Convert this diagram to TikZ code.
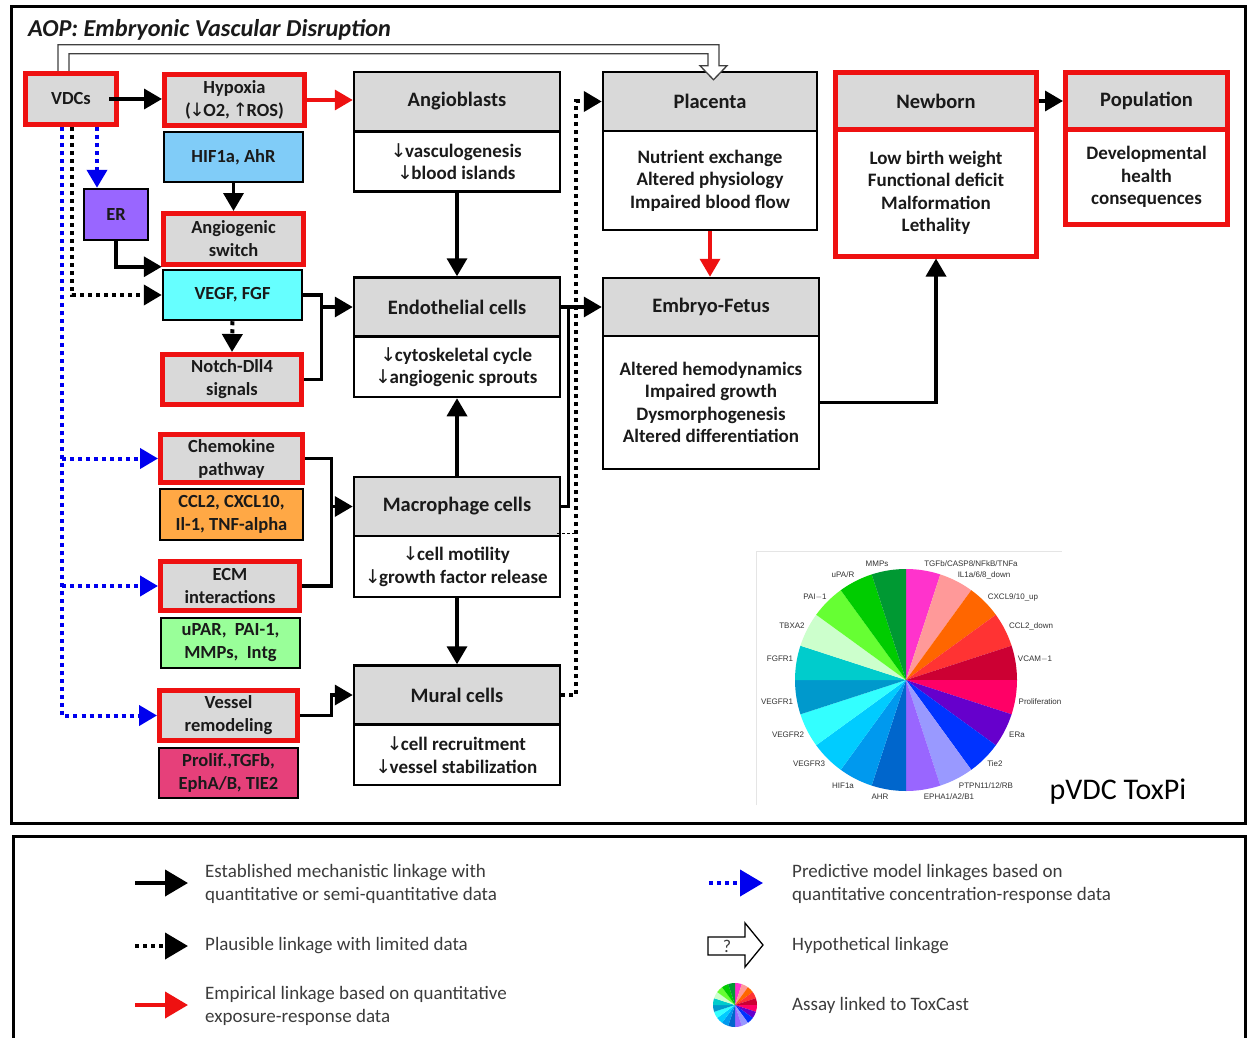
\documentclass[tikz,border=0pt]{standalone}
\usepackage{fontspec}
\setmainfont{Carlito}
\newfontfamily\pielab{Liberation Sans}
\newfontfamily\arrf{DejaVu Sans}
\newcommand{\dn}{{\arrf\mdseries\kern-1.5pt↓\kern-1.5pt}}
\newcommand{\upa}{{\arrf\mdseries\kern-1.5pt↑\kern-1.5pt}}
\usetikzlibrary{arrows.meta,calc}
\definecolor{hdr}{HTML}{D9D9D9}
\definecolor{redc}{HTML}{EE1111}
\definecolor{bluec}{HTML}{0000EE}
\definecolor{txt}{HTML}{1A1A1A}
\definecolor{legt}{HTML}{3C3C3C}
\definecolor{hifc}{HTML}{80CCF8}
\definecolor{erc}{HTML}{9966FF}
\definecolor{vegfc}{HTML}{66FFFF}
\definecolor{cclc}{HTML}{FFA845}
\definecolor{uparc}{HTML}{99FF99}
\definecolor{prolc}{HTML}{E6407A}
\definecolor{p1}{HTML}{FF33CC}
\definecolor{p2}{HTML}{FF9999}
\definecolor{p3}{HTML}{FF6600}
\definecolor{p4}{HTML}{FF3333}
\definecolor{p5}{HTML}{CC0033}
\definecolor{p6}{HTML}{FF0066}
\definecolor{p7}{HTML}{6600CC}
\definecolor{p8}{HTML}{0033FF}
\definecolor{p9}{HTML}{9999FF}
\definecolor{p10}{HTML}{9966FF}
\definecolor{p11}{HTML}{0066CC}
\definecolor{p12}{HTML}{0099EE}
\definecolor{p13}{HTML}{00CCFF}
\definecolor{p14}{HTML}{33FFFF}
\definecolor{p15}{HTML}{0099CC}
\definecolor{p16}{HTML}{00CCCC}
\definecolor{p17}{HTML}{CCFFCC}
\definecolor{p18}{HTML}{66FF33}
\definecolor{p19}{HTML}{00CC00}
\definecolor{p20}{HTML}{009933}
\newcommand{\toxpie}[1]{%
  \foreach \c [count=\i from 0] in {p1,p2,p3,p4,p5,p6,p7,p8,p9,p10,p11,p12,p13,p14,p15,p16,p17,p18,p19,p20}{%
    \fill[\c] (0,0) -- ({90-18*\i}:#1) arc[start angle={90-18*\i}, delta angle=-18, radius=#1] -- cycle;
  }}
\begin{document}
\begin{tikzpicture}[x=1pt,y=-1pt,
  every node/.style={inner sep=0pt, text=txt},
  box/.style={draw=black, line width=2.5pt, align=center, font=\bfseries\fontsize{18.5}{23}\selectfont},
  hbox/.style={box, fill=hdr, font=\bfseries\fontsize{20.5}{23}\selectfont},
  wbox/.style={box, fill=white, font=\bfseries\fontsize{19}{22.5}\selectfont},
  rbox/.style={box, draw=redc, line width=5pt, fill=hdr},
  rhbox/.style={hbox, draw=redc, line width=5pt},
  rwbox/.style={wbox, draw=redc, line width=5pt},
  lnk/.style={line width=3.5pt},
  arr/.style={lnk, -{Triangle[length=18pt,width=20pt]}},
  rarr/.style={arr, color=redc},
  dotk/.style={line width=4pt, dash pattern=on 4pt off 4pt},
  dotarr/.style={dotk, -{Triangle[length=18pt,width=20pt]}},
  bluearr/.style={dotarr, color=bluec},
  legtext/.style={anchor=west, align=left, text=legt, font=\fontsize{19}{23}\selectfont},
  plab/.style={text=black!80, font=\pielab\fontsize{8}{9}\selectfont},
  larr/.style={line width=4pt, -{Triangle[length=23pt,width=26pt]}},
]
\useasboundingbox (0,0) rectangle (1247,1038);
\fill[white] (0,0) rectangle (1247,1038);
% frames
\draw[line width=3pt] (11.5,6.5) rectangle (1245,823.5);
\draw[line width=3pt] (13.5,836.5) rectangle (1245.5,1050);
\node[anchor=west, font=\bfseries\itshape\fontsize{24.3}{26}\selectfont] (title) at (28,30) {AOP: Embryonic Vascular Disruption};

% left column
\node[rbox, minimum width=91pt, minimum height=51pt] (vdc) at (71,99) {VDCs};
\node[rbox, minimum width=140pt, minimum height=51pt] (hyp) at (234.5,100) {Hypoxia\\(\dn O2, \upa ROS)};
\node[box, fill=hifc, minimum width=139pt, minimum height=50pt] (hif) at (233.5,157) {HIF1a, AhR};
\node[box, fill=erc, minimum width=64pt, minimum height=51pt] (er) at (116,214.5) {ER};
\node[rbox, minimum width=140pt, minimum height=51pt] (ang) at (233.5,239) {Angiogenic\\switch};
\node[box, fill=vegfc, minimum width=139pt, minimum height=50pt] (vegf) at (232.5,295) {VEGF, FGF};
\node[rbox, minimum width=139pt, minimum height=50pt] (notch) at (232,379.5) {Notch-Dll4\\signals};
\node[rbox, minimum width=142pt, minimum height=48pt] (chem) at (231.5,458.5) {Chemokine\\pathway};
\node[box, fill=cclc, minimum width=143pt, minimum height=51pt] (ccl) at (231.5,514.5) {CCL2, CXCL10,\\Il-1, TNF-alpha};
\node[rbox, minimum width=139pt, minimum height=49pt] (ecm) at (230,586) {ECM\\interactions};
\node[box, fill=uparc, minimum width=139pt, minimum height=50pt] (upar) at (230.5,643) {uPAR,\ \ PAI-1,\\MMPs,\ \ Intg};
\node[rbox, minimum width=138pt, minimum height=50pt] (ves) at (228.5,715.5) {Vessel\\remodeling};
\node[box, fill=prolc, minimum width=139pt, minimum height=50pt] (prol) at (228.5,773) {Prolif.,TGFb,\\EphA/B, TIE2};

% middle column
\node[hbox, minimum width=206pt, minimum height=59pt] (angH) at (457,101.5) {Angioblasts};
\node[wbox, minimum width=206pt, minimum height=60pt] (angB) at (457,161.5) {\dn vasculogenesis\\\dn blood islands};
\node[hbox, minimum width=206pt, minimum height=59pt] (endoH) at (457,307) {Endothelial cells};
\node[wbox, minimum width=206pt, minimum height=60pt] (endoB) at (457,367) {\dn cytoskeletal cycle\\\dn angiogenic sprouts};
\node[hbox, minimum width=206pt, minimum height=59pt] (macH) at (457,506.5) {Macrophage cells};
\node[wbox, minimum width=206pt, minimum height=61pt] (macB) at (457,566.5) {\dn cell motility\\\dn growth factor release};
\node[hbox, minimum width=206pt, minimum height=59pt] (murH) at (457,695) {Mural cells};
\node[wbox, minimum width=206pt, minimum height=60pt] (murB) at (457,755) {\dn cell recruitment\\\dn vessel stabilization};

% right columns
\node[hbox, minimum width=214pt, minimum height=59pt] (placH) at (710,101.5) {Placenta};
\node[wbox, minimum width=214pt, minimum height=99pt] (placB) at (710,180.5) {Nutrient exchange\\Altered physiology\\Impaired blood flow};
\node[hbox, minimum width=216pt, minimum height=58pt] (embH) at (711,307) {Embryo-Fetus};
\node[wbox, minimum width=216pt, minimum height=133pt] (embB) at (711,402.5) {Altered hemodynamics\\Impaired growth\\Dysmorphogenesis\\Altered differentiation};
\node[rhbox, minimum width=201pt, minimum height=57pt] (newH) at (936,101) {Newborn};
\node[rwbox, minimum width=201pt, minimum height=126pt] (newB) at (936,193) {Low birth weight\\Functional deficit\\Malformation\\Lethality};
\node[rhbox, minimum width=162pt, minimum height=57pt] (popH) at (1146.5,101) {Population};
\node[rwbox, minimum width=162pt, minimum height=94pt] (popB) at (1146.5,177) {Developmental\\health\\consequences};

% connectors
\draw[arr] ([xshift=-10pt]vdc.east) -- (hyp.west |- vdc.east);
\draw[rarr] (hyp.east) -- (angH.west |- hyp.east);
\draw[arr] (hif.south) -- (ang.north);
\draw[bluearr] ([xshift=26pt]vdc.south) -- ([xshift=-19pt]er.north);
\draw[dotarr] ([xshift=1pt]vdc.south) |- (vegf.west);
\draw[arr] (er.south) |- ([yshift=2pt]vegf.north west);
\draw[dotarr] (vegf.south) -- (notch.north);
\draw[lnk] (vegf.east) -- ++(18,0) coordinate (j1) |- (notch.east);
\draw[arr] (j1 |- endoH.west) -- (endoH.west);
\draw[lnk] (chem.east) -- ++(26.5,0) coordinate (j2) |- (ecm.east);
\draw[arr] (j2 |- macH.west) -- (macH.west);
\draw[arr] (ves.east) -- ++(31.5,0) |- (murH.west);
\draw[bluearr] ([xshift=-9pt]vdc.south) |- (ves.west);
\draw[bluearr] ([xshift=-9pt]vdc.south |- chem.west) -- (chem.west);
\draw[bluearr] ([xshift=-9pt]vdc.south |- ecm.west) -- (ecm.west);
\draw[arr] (angB.south) -- (endoH.north);
\draw[arr] (macH.north) -- (endoB.south);
\draw[arr] (macB.south) -- (murH.north);
\draw[dotarr] (murH.east) -- ++(15,0) |- (placH.west);
\draw[line width=1pt, dash pattern=on 3pt off 2pt] ([xshift=-4pt,yshift=4pt]macH.south east) -- ++(18,0);
\draw[arr] (endoH.east) -- (embH.west);
\draw[lnk] (macH.east) -| ([xshift=7pt]endoH.east);
\draw[rarr] (placB.south) -- (embH.north -| placB.south);
\draw[arr] (embB.east) -| (newB.south);
\draw[arr] (newH.east) -- (popH.west);
% hypothetical (hollow) linkage
\draw[line width=1.3pt, draw=black!75, fill=white, line join=miter]
  ([xshift=-13pt]vdc.north) |- ([xshift=9pt,yshift=26pt]placH.north)
  -- ([xshift=9pt,yshift=5pt]placH.north) -- ([xshift=17pt,yshift=5pt]placH.north)
  -- ([xshift=3.5pt,yshift=-9pt]placH.north) -- ([xshift=-10pt,yshift=5pt]placH.north)
  -- ([xshift=-2pt,yshift=5pt]placH.north) -- ([xshift=-2pt,yshift=17pt]placH.north)
  -| ([xshift=-2pt]vdc.north);

% ToxPi
\draw[black!10, line width=0.8pt] (756,805) |- (1062,551);
\begin{scope}[shift={(906,680)}, y=1pt]
  \toxpie{111}
\end{scope}
\node[plab] (l1) at (877,564) {MMPs};
\node[plab] (l2) at (843,575) {uPA/R};
\node[plab] (l3) at (815,597) {PAI$-$1};
\node[plab] (l4) at (792,626) {TBXA2};
\node[plab] (l5) at (780,659) {FGFR1};
\node[plab] (l6) at (777,702) {VEGFR1};
\node[plab] (l7) at (788,735) {VEGFR2};
\node[plab] (l8) at (809,764) {VEGFR3};
\node[plab] (l9) at (843,786) {HIF1a};
\node[plab] (l10) at (880,797) {AHR};
\node[plab] (l11) at (949,797) {EPHA1/A2/B1};
\node[plab] (l12) at (986,786) {PTPN11/12/RB};
\node[plab] (l13) at (995,764) {Tie2};
\node[plab] (l14) at (1017,735) {ERa};
\node[plab] (l15) at (1040,702) {Proliferation};
\node[plab] (l16) at (1035,659) {VCAM$-$1};
\node[plab] (l17) at (1031,626) {CCL2\_down};
\node[plab] (l18) at (1013,597) {CXCL9/10\_up};
\node[plab] (l19) at (984,575) {IL1a/6/8\_down};
\node[plab] (l20) at (971,564) {TGFb/CASP8/NFkB/TNFa};
\node[font=\fontsize{30}{32}\selectfont, text=black] (toxpi) at (1118,792) {pVDC ToxPi};

% legend
\coordinate (a1) at (135,883); \coordinate (b1) at (188,883);
\draw[larr] (a1) -- (b1);
\node[legtext] (t1) at (205,884) {Established mechanistic linkage with\\quantitative or semi-quantitative data};
\coordinate (a2) at (135,946); \coordinate (b2) at (188,946);
\draw[larr, dash pattern=on 4pt off 4pt] (a2) -- (b2);
\node[legtext] (t2) at (205,946) {Plausible linkage with limited data};
\coordinate (a3) at (135,1005); \coordinate (b3) at (188,1005);
\draw[larr, color=redc] (a3) -- (b3);
\node[legtext] (t3) at (205,1006) {Empirical linkage based on quantitative\\exposure-response data};
\coordinate (a4) at (709,883); \coordinate (b4) at (763,883);
\draw[larr, dash pattern=on 4pt off 4pt, color=bluec] (a4) -- (b4);
\node[legtext] (t4) at (792,884) {Predictive model linkages based on\\quantitative concentration-response data};
\draw[line width=1.3pt, fill=white, line join=miter] (708,937) -- (745,937) -- (745,923) -- (763,945) -- (745,967) -- (745,955) -- (708,955) -- cycle;
\node[text=legt, font=\fontsize{18}{20}\selectfont] (q) at (727,946) {?};
\node[legtext] (t5) at (792,946) {Hypothetical linkage};
\begin{scope}[shift={(735,1005)}, y=1pt]
  \toxpie{22}
\end{scope}
\node[legtext] (t6) at (792,1005) {Assay linked to ToxCast};
\end{tikzpicture}
\end{document}
